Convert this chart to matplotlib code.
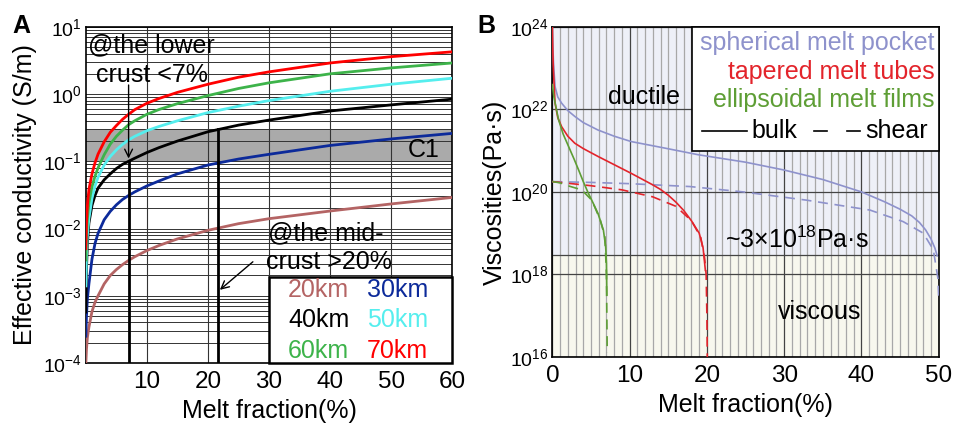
import numpy as np
import matplotlib
matplotlib.use("Agg")
import matplotlib.pyplot as plt
from matplotlib.ticker import LogLocator, NullFormatter, FixedLocator, MultipleLocator
from matplotlib.patches import Rectangle
from matplotlib.lines import Line2D

plt.rcParams['font.family'] = ['Liberation Sans', 'DejaVu Sans']
plt.rcParams['mathtext.fontset'] = 'custom'
plt.rcParams['mathtext.rm'] = 'Liberation Sans'
plt.rcParams['mathtext.default'] = 'regular'

# ---------------------------------------------------------
# Panel A data: effective conductivity (S/m) vs melt fraction (%)
# ---------------------------------------------------------
melt_a = [0, 0.1, 0.25, 0.5, 1, 1.5, 2, 3, 4, 5, 6, 7, 8, 10, 12, 15, 20, 25, 30, 40, 50, 60]

cond_20km = [1.0e-4, 1.6e-4, 2.4e-4, 3.4e-4, 5.8e-4, 8e-4, 1.0e-3, 1.5e-3, 2.0e-3, 2.45e-3,
             2.9e-3, 3.35e-3, 3.8e-3, 4.7e-3, 5.6e-3, 7e-3, 9.4e-3, 0.0118, 0.014, 0.0182,
             0.0232, 0.029]
cond_30km = [2.5e-4, 5e-4, 9e-4, 1.5e-3, 3.5e-3, 6e-3, 8.5e-3, 0.0135, 0.018, 0.0225,
             0.027, 0.031, 0.035, 0.043, 0.051, 0.065, 0.088, 0.108, 0.127, 0.172,
             0.215, 0.26]
cond_40km = [5.7e-4, 2.5e-3, 6e-3, 0.012, 0.022, 0.031, 0.04, 0.053, 0.065, 0.078,
             0.09, 0.1, 0.111, 0.135, 0.16, 0.2, 0.275, 0.345, 0.41, 0.56, 0.69, 0.84]
cond_50km = [1.4e-3, 4e-3, 8e-3, 0.014, 0.028, 0.043, 0.058, 0.088, 0.118, 0.148,
             0.178, 0.208, 0.235, 0.285, 0.33, 0.40, 0.53, 0.66, 0.8, 1.1, 1.4, 1.72]
cond_60km = [3.4e-3, 8e-3, 0.014, 0.024, 0.042, 0.06, 0.08, 0.125, 0.18, 0.235,
             0.29, 0.35, 0.40, 0.50, 0.59, 0.72, 0.95, 1.21, 1.47, 2.0, 2.45, 2.9]
cond_70km = [5e-3, 0.012, 0.022, 0.038, 0.065, 0.095, 0.128, 0.195, 0.27, 0.34,
             0.42, 0.50, 0.585, 0.73, 0.86, 1.06, 1.40, 1.78, 2.14, 2.9, 3.6, 4.25]

depth_labels = ['20km', '30km', '40km', '50km', '60km', '70km']
depth_colors = ['#b46464', '#0c2a9a', '#000000', '#55eeee', '#3db34a', '#ff0000']

c1_band = (0.1, 0.3)
lower_crust_melt = 7.0      # % (arrow to 40km curve)
mid_crust_melt = 21.6       # % (40km curve reaching C1 top)

# ---------------------------------------------------------
# Panel B data: viscosities (Pa s) vs melt fraction (%), log10 values
# ---------------------------------------------------------
sph_bulk_x = [0, 0.05, 0.15, 0.35, 0.7, 1.2, 2, 2.9, 4, 5.9, 8, 10.2, 14.6, 18.9,
              25, 30, 35, 40, 43, 45, 46.5, 47.5, 48.3, 49, 49.5, 49.8]
sph_bulk_log = [24.0, 23.6, 23.1, 22.55, 22.3, 22.15, 21.97, 21.83, 21.68, 21.5, 21.35,
                21.22, 21.06, 20.9, 20.72, 20.53, 20.3, 20.0, 19.76, 19.58, 19.42, 19.26,
                19.08, 18.86, 18.64, 18.45]
sph_shear_x = [0, 5, 10, 17.8, 24.7, 32.9, 41.1, 45.4, 48, 49.3, 49.9, 50]
sph_shear_log = [20.25, 20.23, 20.2, 20.13, 20.0, 19.8, 19.56, 19.28, 19.0, 18.6, 17.9, 17.4]

tap_bulk_x = [0, 0.05, 0.13, 0.35, 0.7, 1.2, 2, 2.9, 4, 5.9, 8, 10.2, 12, 13, 14,
              15, 16, 17, 18, 19, 19.5, 19.8]
tap_bulk_log = [24.0, 23.5, 22.96, 22.15, 21.8, 21.58, 21.35, 21.18, 21.05, 20.86, 20.66,
                20.45, 20.27, 20.17, 20.06, 19.92, 19.75, 19.55, 19.3, 19.0, 18.65, 18.1]
tap_shear_x = [0, 5, 9, 13, 16, 18, 19.2, 19.7, 19.9, 20.0, 20.05]
tap_shear_log = [20.25, 20.15, 20.05, 19.88, 19.65, 19.3, 18.9, 18.4, 18.0, 17.0, 16.0]

ell_bulk_x = [0, 0.2, 0.8, 1.4, 2.1, 2.8, 3.4, 4.0, 4.65, 5.3, 5.9, 6.6, 6.9, 7.0, 7.05]
ell_bulk_log = [22.6, 22.3, 21.75, 21.4, 21.1, 20.8, 20.53, 20.25, 19.97, 19.72, 19.48,
                19.08, 18.67, 18.27, 17.5]
ell_shear_x = [0, 1, 2, 3.8, 5.1, 6.2, 6.8, 7.0, 7.05, 7.1]
ell_shear_log = [20.25, 20.22, 20.15, 20.05, 19.8, 19.32, 18.9, 18.0, 17.0, 16.1]

transition_visc = 3e18
col_sph = '#8e92cc'
col_tap = '#e3242b'
col_ell = '#5e9e35'

# ---------------------------------------------------------
fig = plt.figure(figsize=(9.54, 4.26), dpi=100)
axA = fig.add_axes([0.090, 0.148, 0.384, 0.789])
axB = fig.add_axes([0.579, 0.162, 0.405, 0.775])

# ---------------- Panel A ----------------
axA.set_yscale('log')
axA.set_xlim(0, 60)
axA.set_ylim(1e-4, 1e1)
axA.set_axisbelow(True)
axA.axhspan(*c1_band, color='#aaaaaa', zorder=0.2, lw=0)
axA.yaxis.set_minor_locator(LogLocator(base=10, subs=np.arange(2, 10)))
axA.yaxis.set_minor_formatter(NullFormatter())
axA.set_xticks([10, 20, 30, 40, 50, 60])
axA.grid(True, which='major', axis='x', color='#333333', lw=0.8)
axA.grid(True, which='both', axis='y', color='#333333', lw=0.7)
axA.tick_params(which='both', length=0)
axA.tick_params(axis='x', labelsize=17.5, pad=6)
axA.tick_params(axis='y', labelsize=14, pad=3)

series = [cond_20km, cond_30km, cond_40km, cond_50km, cond_60km, cond_70km]
for vals, col in zip(series, depth_colors):
    axA.plot(melt_a, vals, color=col, lw=2, zorder=3)

# vertical markers
axA.plot([lower_crust_melt, lower_crust_melt], [1e-4, 0.1], color='k', lw=2, zorder=4)
axA.plot([mid_crust_melt, mid_crust_melt], [1e-4, 0.3], color='k', lw=2, zorder=4)
axA.annotate('', xy=(lower_crust_melt, 0.1), xytext=(lower_crust_melt, 1.5),
             arrowprops=dict(arrowstyle='->', color='k', lw=1, mutation_scale=14), zorder=5)
axA.annotate('', xy=(mid_crust_melt, 1.15e-3), xytext=(27.7, 3.4e-3),
             arrowprops=dict(arrowstyle='->', color='k', lw=1, mutation_scale=14), zorder=5)

axA.text(0.3, 5.4, '@the lower', fontsize=18, ha='left', va='center', zorder=6)
axA.text(1.6, 1.93, 'crust <7%', fontsize=18, ha='left', va='center', zorder=6)
axA.text(29.8, 8.5e-3, '@the mid-', fontsize=18, ha='left', va='center', zorder=6)
axA.text(29.5, 3.2e-3, 'crust >20%', fontsize=18, ha='left', va='center', zorder=6)
axA.text(58, 0.148, 'C1', fontsize=18, ha='right', va='center', zorder=6)

# custom legend box
axA.add_patch(Rectangle((0.5, 0.0), 0.5, 0.256, transform=axA.transAxes,
                        facecolor='white', edgecolor='k', lw=1.8, zorder=7, clip_on=False))
leg_pos = [(0.552, 0.217), (0.768, 0.217), (0.552, 0.128),
           (0.768, 0.128), (0.552, 0.036), (0.768, 0.036)]
for (lx, ly), lab, col in zip(leg_pos, depth_labels, depth_colors):
    axA.text(lx, ly, lab, color=col, fontsize=18, ha='left', va='center',
             transform=axA.transAxes, zorder=8)

for s in axA.spines.values():
    s.set_linewidth(1.2)
axA.set_xlabel('Melt fraction(%)', fontsize=18, labelpad=4)
axA.set_ylabel('Effective conductivity (S/m)', fontsize=18, labelpad=4)

# ---------------- Panel B ----------------
axB.set_yscale('log')
axB.set_xlim(0, 50)
axB.set_ylim(1e16, 1e24)
axB.set_axisbelow(True)
axB.axhspan(transition_visc, 1e24, color='#eef0f8', lw=0, zorder=0.1)
axB.axhspan(1e16, transition_visc, color='#f8f8ee', lw=0, zorder=0.1)
axB.yaxis.set_major_locator(FixedLocator([1e16, 1e18, 1e20, 1e22, 1e24]))
axB.yaxis.set_minor_locator(FixedLocator([]))
axB.xaxis.set_major_locator(MultipleLocator(10))
axB.xaxis.set_minor_locator(MultipleLocator(1))
axB.grid(True, which='minor', axis='x', color='#a8a8a8', lw=0.9)
axB.grid(True, which='major', axis='x', color='#444444', lw=0.9)
axB.grid(True, which='major', axis='y', color='#444444', lw=0.9)
axB.axhline(transition_visc, color='#444444', lw=0.9, zorder=0.6)
axB.tick_params(which='both', length=0)
axB.tick_params(axis='x', labelsize=17.5, pad=6)
axB.tick_params(axis='y', labelsize=14, pad=3)

dash = (6, 4)
axB.plot(sph_bulk_x, 10 ** np.array(sph_bulk_log), color=col_sph, lw=1.2, zorder=3)
axB.plot(sph_shear_x, 10 ** np.array(sph_shear_log), color=col_sph, lw=1.2,
         dashes=dash, zorder=3)
axB.plot(tap_bulk_x, 10 ** np.array(tap_bulk_log), color=col_tap, lw=1.2, zorder=3)
axB.plot(tap_shear_x, 10 ** np.array(tap_shear_log), color=col_tap, lw=1.2,
         dashes=dash, zorder=3)
axB.plot(ell_bulk_x, 10 ** np.array(ell_bulk_log), color=col_ell, lw=1.2, zorder=3)
axB.plot(ell_shear_x, 10 ** np.array(ell_shear_log), color=col_ell, lw=1.2,
         dashes=dash, zorder=3)

axB.text(11.8, 10 ** 22.3, 'ductile', fontsize=18, ha='center', va='center', zorder=5)
axB.text(31.7, 10 ** 18.84, r'~3×10$^{18}$Pa·s', fontsize=18, ha='center', va='center', zorder=5)
axB.text(34.6, 10 ** 17.1, 'viscous', fontsize=18, ha='center', va='center', zorder=5)

# custom legend box
axB.add_patch(Rectangle((0.362, 0.624), 0.638, 0.376, transform=axB.transAxes,
                        facecolor='white', edgecolor='k', lw=1.2, zorder=7, clip_on=False))
leg_b = [('spherical melt pocket', col_sph, 0.952),
         ('tapered melt tubes', col_tap, 0.864),
         ('ellipsoidal melt films', col_ell, 0.779)]
for lab, col, ly in leg_b:
    axB.text(0.99, ly, lab, color=col, fontsize=18, ha='right', va='center',
             transform=axB.transAxes, zorder=8)
yrow = 0.685
axB.add_line(Line2D([0.388, 0.504], [yrow, yrow], color='k', lw=1.2,
                    transform=axB.transAxes, zorder=8))
axB.text(0.515, yrow, 'bulk', fontsize=18, ha='left', va='center',
         transform=axB.transAxes, zorder=8)
for x0, x1 in [(0.676, 0.712), (0.763, 0.796)]:
    axB.add_line(Line2D([x0, x1], [yrow, yrow], color='k', lw=1.2,
                        transform=axB.transAxes, zorder=8))
axB.text(0.809, yrow, 'shear', fontsize=18, ha='left', va='center',
         transform=axB.transAxes, zorder=8)

for s in axB.spines.values():
    s.set_linewidth(1.2)
axB.set_xlabel('Melt fraction(%)', fontsize=18, labelpad=4)
axB.set_ylabel('Viscosities(Pa·s)', fontsize=18, labelpad=2)

fig.text(0.013, 0.94, 'A', fontsize=18, fontweight='bold', ha='left', va='center')
fig.text(0.500, 0.94, 'B', fontsize=18, fontweight='bold', ha='left', va='center')

fig.savefig('out.png', dpi=100)
